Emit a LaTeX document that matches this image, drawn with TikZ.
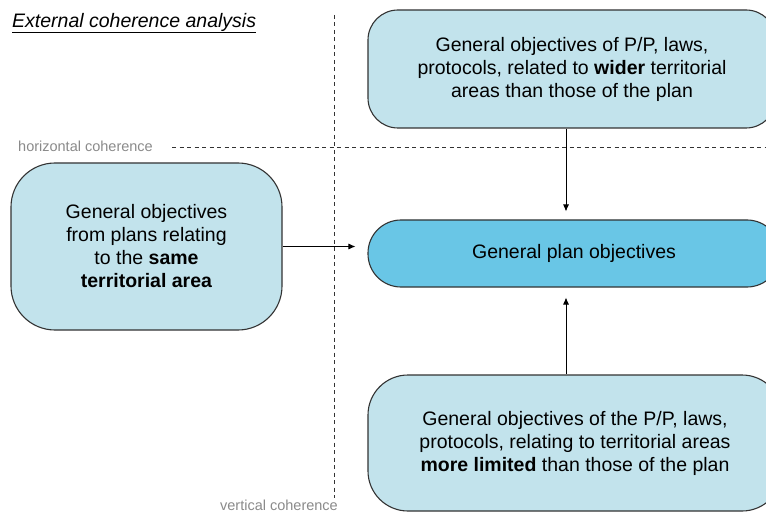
\documentclass[tikz,border=0pt]{standalone}
\usepackage{fontspec}
\setmainfont{Liberation Sans}
\usetikzlibrary{arrows.meta}
\definecolor{lightbox}{HTML}{C2E3EC}
\definecolor{midbox}{HTML}{69C6E6}
\definecolor{edge}{HTML}{333333}
\definecolor{labelgray}{HTML}{8A8A8A}
\begin{document}
\begin{tikzpicture}[x=1pt,y=-1pt,
  objbox/.style={draw=edge, line width=1.1pt, fill=lightbox, align=center,
    font=\fontsize{19.5}{23}\selectfont, inner sep=0pt},
  conn/.style={line width=0.8pt, -{Latex[length=7pt,width=6pt]}},
  guide/.style={draw=black!80, line width=0.6pt, dash pattern=on 4pt off 3.5pt},
  glabel/.style={text=labelgray, font=\fontsize{14.5}{16}\selectfont, inner sep=0pt}]
\useasboundingbox (0,0) rectangle (766,513);
\clip (0,0) rectangle (766,513);
% guides
\coordinate (vtop) at (334,15);
\coordinate (vbot) at (334,498);
\coordinate (hleft) at (172,147);
\coordinate (hright) at (766,147);
\draw[guide] (vtop) -- (vbot);
\draw[guide] (hleft) -- (hright);
\node[glabel, anchor=west] (hlab) at (18,146) {horizontal coherence};
\node[glabel, anchor=base east] (vlab) at (338,510) {vertical coherence};
% title
\node[anchor=west, inner sep=0pt, font=\fontsize{19.5}{22}\selectfont\itshape] (title) at (12,23) {\underline{External coherence analysis}};
% boxes
\node[objbox, minimum width=408pt, minimum height=118pt, rounded corners=30pt] (top) at (572,69)
  {General objectives of P/P, laws,\\protocols, related to \textbf{wider} territorial\\areas than those of the plan};
\node[objbox, minimum width=271pt, minimum height=167pt, rounded corners=44pt] (left) at (146.5,246.5)
  {General objectives\\from plans relating\\to the \textbf{same}\\\textbf{territorial area}};
\node[objbox, fill=midbox, minimum width=412pt, minimum height=67pt, rounded corners=33pt] (mid) at (574,253.5)
  {General plan objectives};
\node[objbox, minimum width=414pt, minimum height=136pt, rounded corners=40pt] (bot) at (575,443)
  {General objectives of the P/P, laws,\\protocols, relating to territorial areas\\\textbf{more limited} than those of the plan};
% connectors
\coordinate (ax) at (566,0);
\draw[conn, shorten >=8pt] (top.south -| ax) -- (mid.north -| ax);
\draw[conn, shorten >=10pt] (bot.north -| ax) -- (mid.south -| ax);
\draw[conn, shorten >=12pt] (left.east) -- (mid.west |- left.east);
\end{tikzpicture}
\end{document}
